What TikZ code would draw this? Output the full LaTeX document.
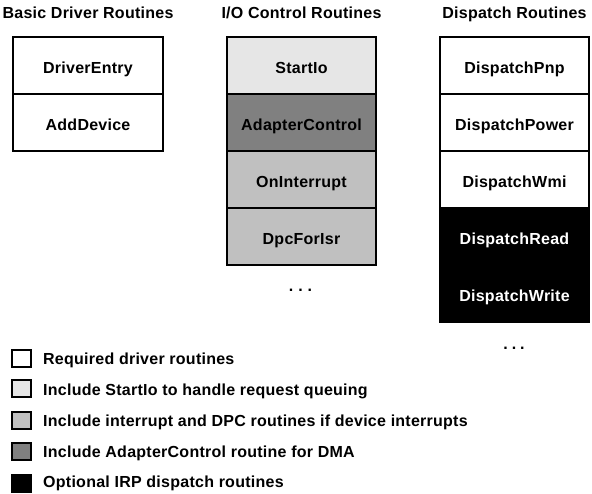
\documentclass[tikz,border=0pt]{standalone}
\usepackage{fontspec}
\setmainfont{Liberation Sans}[LetterSpace=1.6]
\definecolor{lightg}{HTML}{E6E6E6}
\definecolor{midg}{HTML}{C0C0C0}
\definecolor{darkg}{HTML}{808080}
\begin{document}
\begin{tikzpicture}[x=1pt,y=-1pt,
  cell/.style={draw=black, line width=2pt, minimum height=57pt, inner sep=0pt, outer sep=0pt},
  colA/.style={cell, minimum width=150pt},
  colB/.style={cell, minimum width=149pt},
  lbl/.style={anchor=base, font=\bfseries\fontsize{16}{19}\selectfont, inner sep=0pt},
  title/.style={lbl},
  legtext/.style={anchor=base west, font=\bfseries\fontsize{16}{19}\selectfont, inner sep=0pt},
  legbox/.style={draw=black, line width=2pt, minimum width=19pt, minimum height=17pt, inner sep=0pt},
  dots/.style={anchor=base, font=\bfseries\fontsize{16}{19}\selectfont, inner sep=0pt}]
\fill[white] (0,0) rectangle (592,494);
\useasboundingbox (0,0) rectangle (592,494);

% titles
\node[title] (t1) at (88,18.5) {Basic Driver Routines};
\node[title] (t2) at (301.5,18.5) {I/O Control Routines};
\node[title] (t3) at (514.5,18.5) {Dispatch Routines};

% column 1
\node[colA, fill=white] (de) at (88,65.5) {};
\node[colA, fill=white] (ad) at (88,122.5) {};
\node[lbl] (deT) at (88,74) {DriverEntry};
\node[lbl] (adT) at (88,131) {AddDevice};

% column 2
\node[colB, fill=lightg] (si) at (301.5,65.5) {};
\node[colB, fill=darkg] (ac) at (301.5,122.5) {};
\node[colB, fill=midg] (oi) at (301.5,179.5) {};
\node[colB, fill=midg] (dp) at (301.5,236.5) {};
\node[lbl] (siT) at (301.5,74) {StartIo};
\node[lbl] (acT) at (301.5,131) {AdapterControl};
\node[lbl] (oiT) at (301.5,188) {OnInterrupt};
\node[lbl] (dpT) at (301.5,245) {DpcForIsr};
\node[dots] (d2) at (300.5,292) {.\hspace{5pt}.\hspace{5pt}.};

% column 3
\node[colB, fill=white] (pnp) at (514.5,65.5) {};
\node[colB, fill=white] (pow) at (514.5,122.5) {};
\node[colB, fill=white] (wmi) at (514.5,179.5) {};
\node[colB, fill=black] (rd) at (514.5,236.5) {};
\node[colB, fill=black] (wr) at (514.5,293.5) {};
\node[lbl] (pnpT) at (514.5,74) {DispatchPnp};
\node[lbl] (powT) at (514.5,131) {DispatchPower};
\node[lbl] (wmiT) at (514.5,188) {DispatchWmi};
\node[lbl, text=white] (rdT) at (514.5,245) {DispatchRead};
\node[lbl, text=white] (wrT) at (514.5,302) {DispatchWrite};
\node[dots] (d3) at (514,350) {.\hspace{4pt}.\hspace{4pt}.};

% legend
\node[legbox, fill=white] (l1) at (21.7,358.5) {};
\node[legbox, fill=lightg] (l2) at (21.7,389) {};
\node[legbox, fill=midg] (l3) at (21.7,420) {};
\node[legbox, fill=darkg] (l4) at (21.7,451.7) {};
\node[legbox, fill=black] (l5) at (21.7,483) {};
\node[legtext] (l1T) at (43,365) {Required driver routines};
\node[legtext] (l2T) at (43,395.5) {Include StartIo to handle request queuing};
\node[legtext] (l3T) at (43,426) {Include interrupt and DPC routines if device interrupts};
\node[legtext] (l4T) at (43,457) {Include AdapterControl routine for DMA};
\node[legtext] (l5T) at (43,487) {Optional IRP dispatch routines};
\end{tikzpicture}
\end{document}
